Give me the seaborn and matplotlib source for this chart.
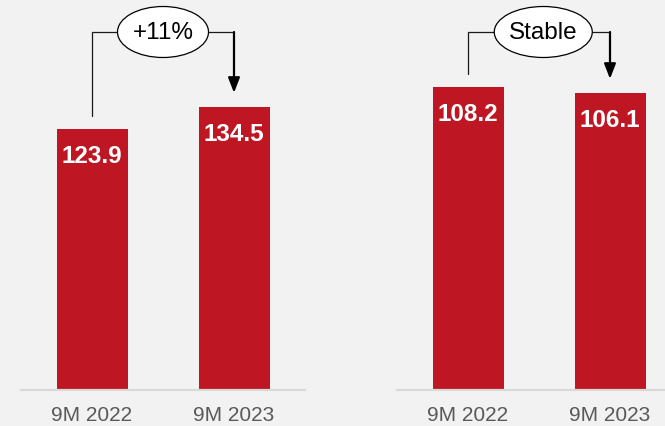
import matplotlib
matplotlib.use("Agg")
import matplotlib.pyplot as plt
from matplotlib.patches import Ellipse
import seaborn as sns
import pandas as pd

# Data
periods = ["9M 2022", "9M 2023"]
left_values = [123.9, 134.5]
right_values = [108.2, 106.1]
left_change = "+11%"
right_change = "Stable"

BG = "#F2F2F2"
RED = "#BE1622"
GRID = "#D9D9D9"
TICK = "#595959"

sns.set_style("white")
plt.rcParams["font.family"] = ["Liberation Sans", "DejaVu Sans"]

W, H = 665, 427
fig = plt.figure(figsize=(W / 100, H / 100), dpi=100, facecolor=BG)

# panel layout in pixels: left edge, width (axes bottom sits on the baseline)
base_px = 391
panels = [
    dict(x0=21, values=left_values, label=left_change, ytop=185.7),
    dict(x0=397, values=right_values, label=right_change, ytop=139.6),
]
panel_w = 284

for p in panels:
    ax = fig.add_axes([p["x0"] / W, 1 - base_px / H, panel_w / W, base_px / H])
    ax.set_facecolor(BG)
    df = pd.DataFrame({"period": periods, "value": p["values"]})
    sns.barplot(data=df, x="period", y="value", color=RED, width=0.5,
                saturation=1, ax=ax, edgecolor="none")
    ax.set_xlim(-0.5, 1.5)
    ax.set_ylim(0, p["ytop"])
    ax.set_xlabel("")
    ax.set_ylabel("")
    ax.set_yticks([])
    for s in ["top", "left", "right"]:
        ax.spines[s].set_visible(False)
    ax.spines["bottom"].set_color(GRID)
    ax.spines["bottom"].set_linewidth(1.6)
    ax.tick_params(axis="x", length=0, pad=10.5, labelsize=15, labelcolor=TICK)

    # value labels inside the bars
    for i, v in enumerate(p["values"]):
        ax.annotate(f"{v:.1f}", xy=(i, v), xytext=(0, -19), textcoords="offset points",
                    ha="center", va="center", color="white", fontsize=17.5,
                    fontweight="bold")

    # bracket with change label
    px_per_unit = base_px / p["ytop"]
    to_data = lambda px: (base_px - px) / px_per_unit
    v0, v1 = p["values"]
    y_start = v0 + 13 / px_per_unit
    y_top = to_data(33)
    y_tip = v1 + 14 / px_per_unit
    ax.plot([0, 0, 1], [y_start, y_top, y_top], color="#1A1A1A", lw=0.9,
            clip_on=False, zorder=3, solid_joinstyle="miter")
    ax.annotate("", xy=(1, y_tip), xytext=(1, y_top),
                arrowprops=dict(arrowstyle="-|>,head_length=0.9,head_width=0.35",
                                color="black", lw=1.6, shrinkA=0, shrinkB=0),
                annotation_clip=False, zorder=3)
    ew = (91 if p["label"] == left_change else 98) / 142
    ex = 0.5 if p["label"] == left_change else 0.53
    eh = 51 / px_per_unit
    ax.add_patch(Ellipse((ex, y_top), ew, eh, facecolor="white", edgecolor="black",
                         lw=0.9, zorder=4, clip_on=False))
    ax.text(ex, y_top, p["label"], ha="center", va="center", fontsize=17.5,
            color="black", zorder=5)

fig.savefig("out.png", dpi=100, facecolor=BG)
